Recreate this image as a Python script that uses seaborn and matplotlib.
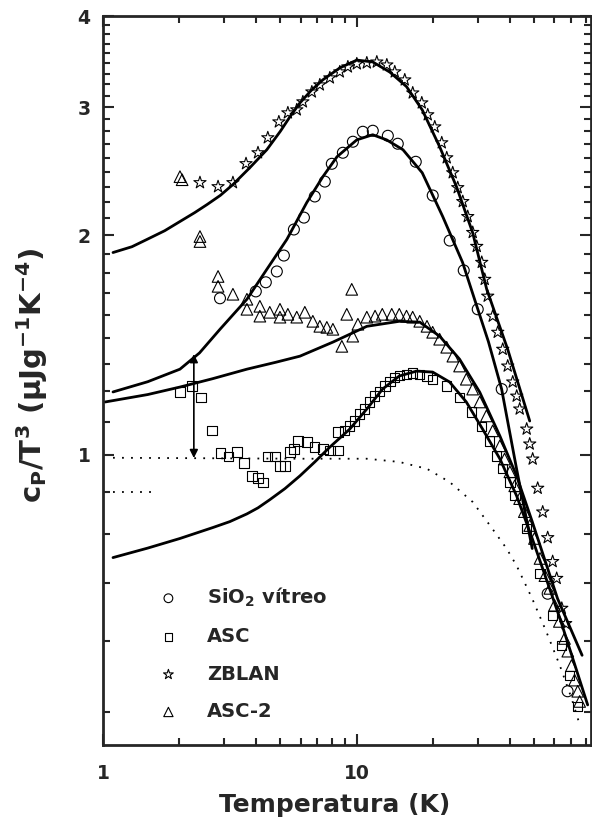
import matplotlib
matplotlib.use("Agg")
import matplotlib.pyplot as plt
import matplotlib.ticker as mticker
import seaborn as sns

sns.set_style("ticks")
plt.rcParams['font.family'] = ['DejaVu Sans']
plt.rcParams['font.weight'] = 'bold'
plt.rcParams['mathtext.fontset'] = 'custom'
plt.rcParams['mathtext.rm'] = 'DejaVu Sans:bold'
plt.rcParams['mathtext.it'] = 'DejaVu Sans:bold'
plt.rcParams['mathtext.bf'] = 'DejaVu Sans:bold'

# measured data (T in K, cp/T^3 in uJ g^-1 K^-4)
sio2_T = [2.89, 4.0, 4.38, 4.84, 5.16, 5.65, 6.19, 6.83, 7.48, 7.97, 8.81, 9.65,
          10.56, 11.56, 13.25, 14.5, 17.07, 19.91, 23.23, 26.38, 29.95, 37.23, 56.5, 67.7]
sio2_c = [1.64, 1.676, 1.725, 1.785, 1.877, 2.038, 2.116, 2.262, 2.371, 2.508, 2.597, 2.689,
          2.775, 2.784, 2.74, 2.672, 2.524, 2.269, 1.968, 1.791, 1.584, 1.231, 0.645, 0.474]

asc_T = [2.01, 2.24, 2.43, 2.69, 2.91, 3.13, 3.37, 3.59, 3.86, 4.08, 4.27, 4.46, 4.76, 4.98,
         5.21, 5.45, 5.65, 5.86, 6.36, 6.83, 7.35, 7.83, 8.42, 8.42, 8.97, 9.38, 9.81, 10.27,
         10.74, 11.24, 11.76, 12.3, 12.9, 13.5, 14.1, 14.7, 15.7, 16.6, 17.7, 18.9, 19.9, 22.6,
         25.4, 28.3, 31.0, 33.4, 35.6, 37.6, 40.1, 42.0, 46.7, 52.7, 59.1, 64.2, 69.0, 74.0]
asc_c = [1.22, 1.243, 1.2, 1.079, 1.006, 0.994, 1.009, 0.975, 0.936, 0.93, 0.916, 0.994, 0.994,
         0.966, 0.966, 1.009, 1.019, 1.045, 1.042, 1.025, 1.019, 1.013, 1.013, 1.075, 1.079, 1.096,
         1.113, 1.138, 1.156, 1.182, 1.204, 1.223, 1.243, 1.262, 1.278, 1.286, 1.29, 1.295, 1.29,
         1.282, 1.27, 1.243, 1.2, 1.145, 1.095, 1.045, 0.997, 0.957, 0.918, 0.879, 0.792, 0.688,
         0.602, 0.548, 0.498, 0.452]

zblan_T = [2.41, 2.84, 3.25, 3.66, 4.08, 4.46, 4.93, 5.35, 5.8, 6.13, 6.65, 7.15, 7.83, 8.57,
           9.22, 10.0, 10.95, 11.99, 13.13, 14.11, 15.45, 16.61, 18.03, 19.03, 20.28, 21.61,
           22.61, 23.87, 24.98, 26.15, 27.35, 28.62, 29.68, 31.06, 31.91, 32.79, 34.31, 35.91,
           37.57, 39.31, 41.14, 42.66, 43.83, 46.7, 48.0, 49.3, 51.6, 54.0, 56.5, 59.1, 61.3,
           64.2, 66.5]
zblan_c = [2.363, 2.333, 2.363, 2.509, 2.597, 2.723, 2.863, 2.946, 2.974, 3.05, 3.147, 3.218,
           3.29, 3.353, 3.406, 3.439, 3.449, 3.459, 3.427, 3.353, 3.269, 3.137, 3.04, 2.928,
           2.818, 2.68, 2.556, 2.438, 2.326, 2.226, 2.123, 2.019, 1.932, 1.837, 1.741, 1.651,
           1.55, 1.473, 1.396, 1.324, 1.259, 1.204, 1.156, 1.085, 1.035, 0.987, 0.9, 0.835,
           0.77, 0.714, 0.677, 0.616, 0.587]

asc2_T = [2.01, 2.05, 2.41, 2.41, 2.84, 2.84, 3.25, 3.69, 3.69, 4.15, 4.15, 4.54, 4.98, 4.98,
          5.35, 5.8, 6.24, 6.71, 7.15, 7.62, 8.05, 8.73, 9.13, 9.55, 9.64, 10.1, 10.95, 11.8,
          12.6, 13.73, 14.7, 15.7, 16.6, 17.7, 18.9, 19.9, 21.2, 22.6, 23.9, 25.4, 27.0, 28.6,
          30.5, 32.4, 34.3, 36.6, 38.2, 40.1, 41.9, 43.8, 45.7, 48.0, 50.1, 52.7, 55.1, 57.6,
          60.1, 62.8, 65.8, 67.8, 70.1, 72.1, 74.2, 75.5]
asc2_c = [2.408, 2.385, 1.993, 1.962, 1.757, 1.703, 1.661, 1.635, 1.584, 1.599, 1.55, 1.569,
          1.584, 1.545, 1.559, 1.545, 1.569, 1.525, 1.501, 1.496, 1.487, 1.409, 1.559, 1.687,
          1.455, 1.511, 1.545, 1.55, 1.559, 1.559, 1.559, 1.55, 1.545, 1.525, 1.501, 1.473,
          1.441, 1.405, 1.366, 1.324, 1.27, 1.231, 1.182, 1.131, 1.079, 1.029, 0.987, 0.948,
          0.907, 0.871, 0.836, 0.8, 0.768, 0.721, 0.683, 0.656, 0.622, 0.591, 0.56, 0.538,
          0.514, 0.491, 0.474, 0.459]

# model curves
fit_zblan_T = [1.095, 1.3, 1.49, 1.75, 2.01, 2.3, 2.57, 2.9, 3.25, 3.8, 4.42, 5.0, 5.45, 5.97,
               6.6, 7.35, 8.57, 10.0, 11.55, 13.5, 15.7, 18.1, 21.2, 24.7, 28.6, 32.5, 39.3, 48.0]
fit_zblan_c = [1.895, 1.93, 1.975, 2.03, 2.09, 2.15, 2.205, 2.27, 2.349, 2.48, 2.622, 2.78,
               2.909, 3.04, 3.16, 3.27, 3.395, 3.48, 3.46, 3.35, 3.2, 2.974, 2.647, 2.333, 2.018,
               1.687, 1.396, 1.113]

fit_sio2_T = [1.095, 1.5, 2.01, 2.4, 2.89, 3.69, 4.42, 5.3, 6.35, 7.35, 8.36, 10.0, 11.55, 13.1,
              15.2, 18.1, 21.8, 26.1, 29.1, 33.0, 37.2, 42.6, 49.1]
fit_sio2_c = [1.22, 1.26, 1.311, 1.38, 1.487, 1.635, 1.797, 1.975, 2.219, 2.408, 2.565, 2.705,
              2.749, 2.705, 2.622, 2.438, 2.123, 1.837, 1.635, 1.43, 1.231, 0.957, 0.744]

fit_asc2_T = [1.02, 1.5, 2.01, 2.7, 3.69, 4.8, 5.97, 8.05, 10.95, 14.7, 17.7, 21.2, 25.4, 30.5,
              36.6, 42.6, 49.1, 61.8, 77.2]
fit_asc2_c = [1.182, 1.21, 1.239, 1.272, 1.311, 1.34, 1.366, 1.428, 1.501, 1.525, 1.521, 1.455,
              1.353, 1.219, 1.062, 0.936, 0.81, 0.635, 0.531]

fit_asc_T = [1.095, 1.5, 2.01, 2.71, 3.16, 3.69, 4.08, 4.54, 5.21, 5.97, 6.83, 7.83, 9.38, 10.95,
             12.63, 14.7, 17.2, 19.9, 23.2, 27.0, 31.3, 36.6, 42.6, 49.1, 63.1, 81.2]
fit_asc_c = [0.723, 0.745, 0.768, 0.795, 0.81, 0.83, 0.846, 0.868, 0.899, 0.936, 0.978, 1.025,
             1.085, 1.156, 1.231, 1.283, 1.303, 1.299, 1.259, 1.182, 1.085, 0.988, 0.879, 0.768,
             0.597, 0.454]

debye_T = [1.095, 5.97, 10.95, 14.7, 18.9, 23.2, 28.6, 34.2, 38.9, 42.6, 49.1, 55.7, 63.1, 70.1, 75.0]
debye_c = [0.991, 0.988, 0.988, 0.978, 0.957, 0.918, 0.862, 0.792, 0.744, 0.705, 0.635, 0.573,
           0.514, 0.464, 0.43]

level_T = [1.095, 1.6]
level_c = [0.889, 0.889]

arrow_T = 2.28
arrow_c = (0.99, 1.375)

fig = plt.figure(figsize=(5.92, 8.23), dpi=100)
ax = fig.add_axes([103 / 592, 78 / 823, 489 / 592 - 0.001, 729 / 823])
ax.set_xscale('log')
ax.set_yscale('log')

for T, c in [(fit_zblan_T, fit_zblan_c), (fit_sio2_T, fit_sio2_c),
             (fit_asc2_T, fit_asc2_c), (fit_asc_T, fit_asc_c)]:
    sns.lineplot(x=T, y=c, color='black', lw=2.0, sort=False, estimator=None, ax=ax)
for T, c in [(debye_T, debye_c), (level_T, level_c)]:
    sns.lineplot(x=T, y=c, color='black', lw=1.3, ls=(0, (1, 4)), sort=False, estimator=None, ax=ax)

mk = dict(color='black', facecolors='none', edgecolor='black', linewidth=0.8, ax=ax, zorder=3)
h1 = sns.scatterplot(x=sio2_T, y=sio2_c, marker='o', s=62, **mk).collections[-1]
h2 = sns.scatterplot(x=asc_T, y=asc_c, marker='s', s=45, **mk).collections[-1]
h3 = sns.scatterplot(x=zblan_T, y=zblan_c, marker='*', s=85, **mk).collections[-1]
h4 = sns.scatterplot(x=asc2_T, y=asc2_c, marker='^', s=70, **mk).collections[-1]

ax.annotate('', xy=(arrow_T, arrow_c[1]), xytext=(arrow_T, arrow_c[0]),
            arrowprops=dict(arrowstyle='<|-|>', color='black', lw=1.2, mutation_scale=12,
                            shrinkA=0, shrinkB=0))

ax.set_xlim(1, 84)
ax.set_ylim(0.4, 4)
ax.xaxis.set_major_locator(mticker.FixedLocator([1, 10]))
ax.xaxis.set_major_formatter(mticker.FixedFormatter(['1', '10']))
ax.xaxis.set_minor_locator(mticker.LogLocator(base=10, subs=range(2, 10)))
ax.xaxis.set_minor_formatter(mticker.NullFormatter())
ax.yaxis.set_major_locator(mticker.FixedLocator([1, 2, 3, 4]))
ax.yaxis.set_major_formatter(mticker.FixedFormatter(['1', '2', '3', '4']))
ax.yaxis.set_minor_locator(mticker.FixedLocator(
    [b + k / 9 for b in (0, 1, 2, 3) for k in range(1, 9) if b + k / 9 > 0.4]))
ax.yaxis.set_minor_formatter(mticker.NullFormatter())

ax.tick_params(which='both', direction='in', top=True, right=True, width=1.5, labelsize=13.5)
ax.tick_params(which='major', length=8)
ax.tick_params(which='minor', length=5)
ax.tick_params(axis='x', pad=14)
ax.tick_params(axis='y', pad=9)
for s in ax.spines.values():
    s.set_linewidth(2)
    s.set_visible(True)

ax.set_xlabel('Temperatura (K)', fontsize=18, fontweight='bold')
ax.xaxis.set_label_coords(0.474, -0.066)
ax.set_ylabel(r'c$_{P}$/T$^{3}$ (μJg$^{-1}$K$^{-4}$)', fontsize=21, fontweight='bold')
ax.yaxis.set_label_coords(-0.108, 0.507)

ax.legend([h1, h2, h3, h4], [r'SiO$_{2}$ vítreo', 'ASC', 'ZBLAN', 'ASC-2'],
          loc='upper left', bbox_to_anchor=(0.114, 0.219), frameon=False, borderaxespad=0,
          borderpad=0, handlelength=1.0, handletextpad=1.5, labelspacing=0.95,
          markerscale=0.8, prop=dict(size=14, weight='bold'))

fig.savefig('out.png', dpi=100)
